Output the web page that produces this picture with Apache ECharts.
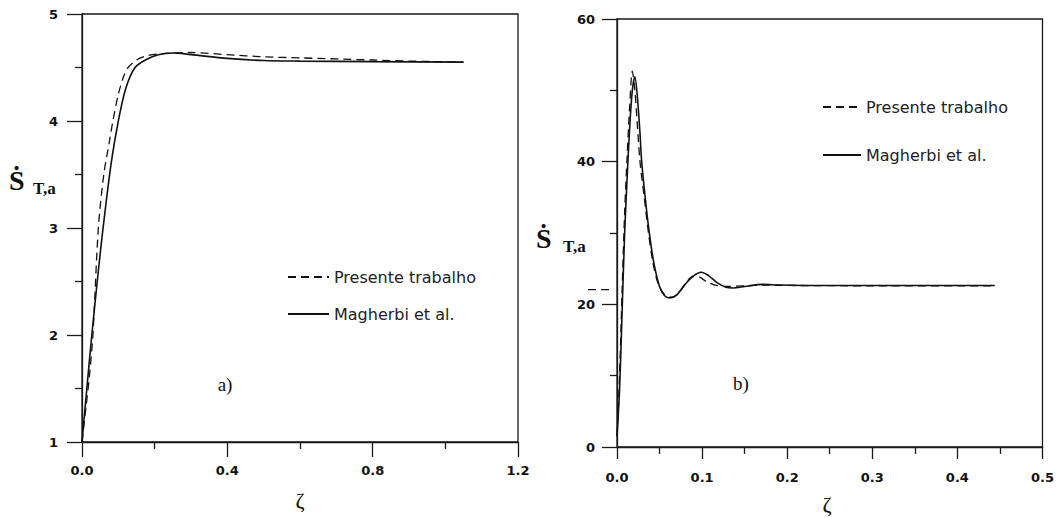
<!DOCTYPE html>
<html>
<head>
<meta charset="utf-8">
<script src="https://cdn.jsdelivr.net/npm/echarts@6/dist/echarts.min.js"></script>
<style>
html,body{margin:0;padding:0;background:#fff;}
#c{width:1057px;height:518px;}
</style>
</head>
<body>
<div id="c"></div>
<script>
// ---- Data ----
// Panel a)
const aPresenteX = [0, 0.01, 0.02, 0.03, 0.045, 0.06, 0.075, 0.085, 0.1, 0.115, 0.127, 0.15, 0.18, 0.22, 0.3, 0.4, 0.5, 0.6, 0.7, 0.8, 0.9, 1.05];
const aPresenteY = [1.0, 1.3, 1.6, 2.0, 3.0, 3.5, 3.8, 4.0, 4.25, 4.42, 4.5, 4.57, 4.61, 4.63, 4.64, 4.62, 4.60, 4.59, 4.58, 4.57, 4.56, 4.55];
const aMagherbiX = [0, 0.012, 0.027, 0.045, 0.058, 0.08, 0.1, 0.12, 0.146, 0.18, 0.21, 0.25, 0.3, 0.4, 0.5, 0.6, 0.8, 1.05];
const aMagherbiY = [1.0, 1.45, 2.0, 2.6, 3.0, 3.6, 4.0, 4.3, 4.5, 4.58, 4.62, 4.635, 4.62, 4.585, 4.565, 4.56, 4.555, 4.55];
// Panel b)
const bPresenteX = [0, 0.003, 0.006, 0.009, 0.012, 0.015, 0.018, 0.021, 0.024, 0.027, 0.032, 0.037, 0.042, 0.048, 0.055, 0.064, 0.072, 0.08, 0.089, 0.097, 0.105, 0.115, 0.13, 0.15, 0.17, 0.2, 0.3, 0.444];
const bPresenteY = [1.5, 10, 22, 33, 41, 48, 52.7, 50, 45, 40, 35, 30, 26, 23, 21.5, 21.0, 21.5, 22.8, 23.9, 23.8, 23.2, 22.7, 22.5, 22.6, 22.7, 22.65, 22.6, 22.6];
const bMagherbiX = [0, 0.003, 0.006, 0.009, 0.012, 0.015, 0.018, 0.021, 0.024, 0.027, 0.029, 0.034, 0.038, 0.043, 0.05, 0.056, 0.062, 0.07, 0.08, 0.09, 0.099, 0.108, 0.118, 0.128, 0.136, 0.15, 0.171, 0.19, 0.22, 0.3, 0.444];
const bMagherbiY = [1.5, 8, 19, 30, 38, 45, 50, 51.9, 49, 44, 40, 34, 30, 26, 22.5, 21.2, 20.9, 21.3, 22.8, 24.0, 24.5, 24.0, 23.0, 22.4, 22.3, 22.5, 22.8, 22.7, 22.65, 22.65, 22.65];
// stray dashed mark left of the b) y-axis (in zeta units, outside the 0..0.5 range)
const bStrayX = [-0.034, -0.009];
const bStrayY = [22.06, 22.06];

// Axis ranges / tick labels
const aXTicks = [0, 0.4, 0.8, 1.2];
const aYTicks = [1, 2, 3, 4, 5];
const bXTicks = [0, 0.1, 0.2, 0.3, 0.4, 0.5];
const bYTicks = [0, 20, 40, 60];

const seriesNames = ['Presente trabalho', 'Magherbi et al.'];
const yTitleMain = 'Ṡ';
const yTitleSub = 'T,a';
const xTitle = 'ζ';
const panelLabels = ['a)', 'b)'];

function zip(xs, ys) { return xs.map((x, i) => [x, ys[i]]); }

const tickFont = { fontFamily: 'DejaVu Sans', fontWeight: 'bold', fontSize: 13, color: '#111' };
const axisLineStyle = { color: '#1a1a1a', width: 1.3 };

function xAxisCfg(grid, ticks, tickLen, margin) {
  const step = ticks[1] - ticks[0];
  return {
    type: 'value', gridIndex: grid, min: ticks[0], max: ticks[ticks.length - 1], interval: step,
    axisLine: { show: true, onZero: false, lineStyle: axisLineStyle },
    axisTick: { show: true, inside: false, length: tickLen, lineStyle: axisLineStyle },
    minorTick: { show: true, splitNumber: 2, length: 7, lineStyle: axisLineStyle },
    splitLine: { show: false },
    axisLabel: Object.assign({ margin: margin, formatter: v => v.toFixed(1) }, tickFont)
  };
}
function yAxisCfg(grid, ticks, margin) {
  const step = ticks[1] - ticks[0];
  return {
    type: 'value', gridIndex: grid, min: ticks[0], max: ticks[ticks.length - 1], interval: step,
    axisLine: { show: true, onZero: false, lineStyle: axisLineStyle },
    axisTick: { show: true, inside: false, length: 15, lineStyle: axisLineStyle },
    minorTick: { show: true, splitNumber: 2, length: 7, lineStyle: axisLineStyle },
    splitLine: { show: false },
    axisLabel: Object.assign({ margin: margin, formatter: v => String(v) }, tickFont)
  };
}
function hiddenAxis(grid, min, max) {
  return { type: 'value', gridIndex: grid, min: min, max: max, show: false, splitLine: { show: false } };
}

function lineSeries(name, xi, yi, data, dashed) {
  return {
    name: name, type: 'line', xAxisIndex: xi, yAxisIndex: yi,
    data: data, symbol: 'none', showSymbol: false, smooth: 0.3,
    lineStyle: dashed ? { color: '#111', width: 1.3, type: [8, 5] } : { color: '#111', width: 1.6, type: 'solid' },
    itemStyle: { color: '#111' },
    animation: false
  };
}

const serif = '"Liberation Serif", "DejaVu Serif", serif';
function yTitle(x, y, subGap) {
  return [
    { type: 'text', x: x, y: y, style: { text: yTitleMain, font: 'bold 28px ' + serif, fill: '#111', verticalAlign: 'middle', align: 'left' } },
    { type: 'text', x: x + subGap, y: y + 8, style: { text: yTitleSub, font: 'bold 17px ' + serif, fill: '#111', verticalAlign: 'middle', align: 'left' } }
  ];
}

const legendText = { fontFamily: 'DejaVu Sans', fontSize: 16, color: '#222' };
const legendItemStyle = { opacity: 0 };

// panel b) scale: 0.5 zeta over 426 px -> stray grid placed with same scale
const bGridLeft = 617, bGridWidth = 426;
const bPxPerUnit = bGridWidth / (bXTicks[bXTicks.length - 1] - bXTicks[0]);

const chart = echarts.init(document.getElementById('c'), null, { renderer: 'svg' });
chart.setOption({
  animation: false,
  backgroundColor: '#fff',
  grid: [
    { left: 82, top: 14, width: 436, height: 428, show: true, borderColor: '#1a1a1a', borderWidth: 1.3, backgroundColor: 'transparent' },
    { left: bGridLeft, top: 19, width: bGridWidth, height: 428, show: true, borderColor: '#1a1a1a', borderWidth: 1.3, backgroundColor: 'transparent' },
    // helper grid sharing panel b)'s scale, to the left of its y-axis
    { left: bGridLeft + bStrayX[0] * bPxPerUnit, top: 19, width: (bStrayX[1] - bStrayX[0]) * bPxPerUnit, height: 428, show: false }
  ],
  xAxis: [xAxisCfg(0, aXTicks, 15, 22), xAxisCfg(1, bXTicks, 12, 24), hiddenAxis(2, bStrayX[0], bStrayX[1])],
  yAxis: [yAxisCfg(0, aYTicks, 24), yAxisCfg(1, bYTicks, 22), hiddenAxis(2, bYTicks[0], bYTicks[bYTicks.length - 1])],
  legend: [
    { data: seriesNames, orient: 'vertical', left: 282, top: 264, itemWidth: 41, itemHeight: 14, itemGap: 21,
      textStyle: legendText, itemStyle: legendItemStyle, selectedMode: false },
    { data: seriesNames, orient: 'vertical', left: 817, top: 94, itemWidth: 38, itemHeight: 14, itemGap: 32,
      textStyle: legendText, itemStyle: legendItemStyle, selectedMode: false }
  ],
  graphic: [].concat(
    yTitle(9, 180, 24),
    yTitle(536, 238, 27),
    [
      { type: 'text', x: 300, y: 500, style: { text: xTitle, font: '22px ' + serif, fill: '#111', align: 'center', verticalAlign: 'middle' } },
      { type: 'text', x: 827, y: 504, style: { text: xTitle, font: '22px ' + serif, fill: '#111', align: 'center', verticalAlign: 'middle' } },
      { type: 'text', x: 225, y: 384, style: { text: panelLabels[0], font: '19px ' + serif, fill: '#111', align: 'center', verticalAlign: 'middle' } },
      { type: 'text', x: 741, y: 383, style: { text: panelLabels[1], font: '19px ' + serif, fill: '#111', align: 'center', verticalAlign: 'middle' } }
    ]
  ),
  series: [
    lineSeries(seriesNames[0], 0, 0, zip(aPresenteX, aPresenteY), true),
    lineSeries(seriesNames[1], 0, 0, zip(aMagherbiX, aMagherbiY), false),
    lineSeries(seriesNames[0], 1, 1, zip(bPresenteX, bPresenteY), true),
    lineSeries(seriesNames[1], 1, 1, zip(bMagherbiX, bMagherbiY), false),
    Object.assign(lineSeries('marca', 2, 2, zip(bStrayX, bStrayY), true), { smooth: false, clip: false })
  ]
});
</script>
</body>
</html>
